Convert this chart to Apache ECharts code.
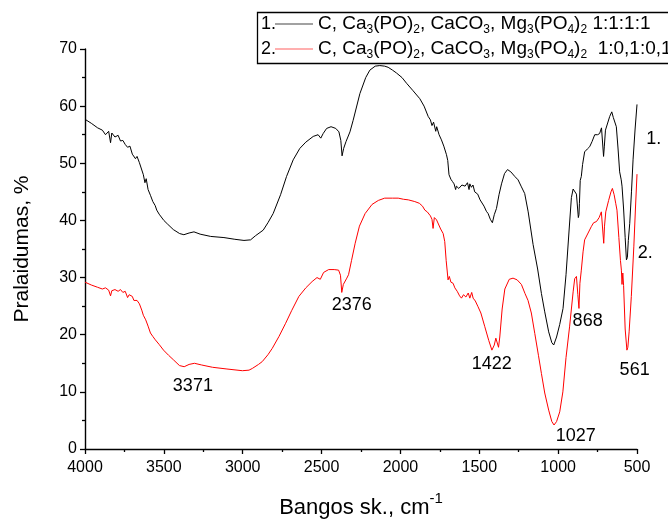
<!DOCTYPE html>
<html>
<head>
<meta charset="utf-8">
<script src="https://cdn.jsdelivr.net/npm/echarts@6/dist/echarts.min.js"></script>
<style>
html, body { margin: 0; padding: 0; background: #fff; }
#main { width: 668px; height: 521px; }
</style>
</head>
<body>
<div id="main"></div>
<script>
// spectrum 1 (black)
const waveBlack = [4000, 3960, 3920, 3890, 3870, 3850, 3838, 3830, 3810, 3790, 3775, 3760, 3745, 3730, 3715, 3700,
    3690, 3680, 3670, 3655, 3645, 3630, 3620, 3612, 3600, 3585, 3570, 3555, 3545, 3530, 3500, 3478, 3440, 3400,
    3373, 3340, 3309, 3270, 3203, 3119, 3050, 2992, 2950, 2920, 2870, 2840, 2807, 2760, 2722, 2680, 2638, 2600,
    2553, 2522, 2505, 2490, 2468, 2440, 2410, 2390, 2378, 2370, 2360, 2345, 2335, 2320, 2300, 2257, 2220, 2194,
    2160, 2131, 2100, 2078, 2050, 2025, 1990, 1961, 1920, 1877, 1850, 1824, 1810, 1800, 1790, 1782, 1776, 1770,
    1755, 1740, 1725, 1708, 1700, 1692, 1687, 1680, 1670, 1660, 1650, 1645, 1630, 1610, 1590, 1575, 1565, 1560,
    1550, 1540, 1529, 1510, 1495, 1486, 1470, 1455, 1444, 1430, 1417, 1405, 1398, 1391, 1375, 1359, 1340, 1321,
    1300, 1275, 1254, 1235, 1212, 1190, 1159, 1130, 1106, 1085, 1060, 1040, 1028, 1010, 990, 969, 950, 930, 916,
    905, 895, 884, 872, 868, 865, 860, 853, 845, 832, 815, 800, 785, 768, 750, 737, 725, 718, 712, 707, 700, 690,
    673, 660, 650, 631, 620, 610, 600, 595, 585, 575, 567, 561, 555, 546, 535, 525, 512, 500];
const transBlack = [57.7, 57.0, 56.2, 55.8, 55.0, 55.6, 53.6, 55.3, 54.6, 54.9, 53.9, 54.0, 53.3, 52.8, 53.0, 51.6,
    51.9, 50.8, 51.2, 50.1, 49.8, 48.0, 46.6, 47.3, 45.4, 44.4, 43.3, 42.6, 41.8, 41.1, 40.0, 39.4, 38.4, 37.7,
    37.5, 37.8, 38.0, 37.6, 37.2, 37.0, 36.7, 36.5, 36.6, 37.3, 38.3, 39.6, 41.2, 44.5, 47.7, 50.6, 52.6, 53.7,
    54.7, 55.0, 54.4, 55.2, 56.1, 56.4, 56.1, 55.5, 54.0, 51.3, 52.6, 53.8, 54.0, 55.5, 57.5, 62.2, 65.0, 66.3,
    67.0, 67.1, 67.0, 66.8, 66.3, 65.8, 65.0, 64.0, 62.7, 61.3, 60.0, 58.2, 57.6, 56.6, 57.2, 57.0, 55.6, 56.4,
    55.0, 54.1, 53.0, 51.5, 50.5, 48.0, 47.8, 47.2, 46.8, 46.4, 45.4, 46.0, 45.6, 46.2, 46.0, 46.6, 45.4, 46.4,
    45.8, 46.2, 45.0, 44.6, 43.6, 43.6, 42.5, 41.6, 41.2, 40.2, 39.6, 41.0, 40.8, 42.1, 44.5, 46.4, 48.2, 48.9,
    48.5, 47.7, 47.1, 46.0, 44.7, 41.5, 35.8, 31.5, 27.2, 24.0, 20.5, 18.6, 18.2, 19.6, 21.8, 24.6, 30.5, 38.5, 44.0,
    45.5, 45.5, 44.6, 40.5, 41.0, 43.0, 47.0, 47.7, 49.8, 52.0, 52.5, 52.9, 53.8, 55.0, 55.0, 55.2, 56.2, 56.4, 51.2, 53.0, 55.8, 56.0,
    58.2, 59.0, 58.0, 56.4, 52.5, 48.5, 47.1, 46.0, 42.0, 37.0, 33.1, 33.5, 36.5, 39.5, 45.0, 50.6, 56.0, 60.3];

// spectrum 2 (red)
const waveRed = [4000, 3960, 3920, 3890, 3870, 3850, 3838, 3830, 3810, 3790, 3775, 3760, 3745, 3730, 3720, 3700,
    3690, 3680, 3670, 3655, 3640, 3630, 3615, 3600, 3585, 3570, 3554, 3530, 3502, 3470, 3439, 3401, 3371, 3340,
    3306, 3260, 3191, 3100, 3002, 2960, 2939, 2900, 2876, 2840, 2813, 2770, 2728, 2690, 2644, 2600, 2560, 2529,
    2508, 2487, 2455, 2420, 2392, 2380, 2372, 2362, 2350, 2340, 2329, 2310, 2287, 2260, 2224, 2180, 2140, 2100,
    2050, 2014, 1980, 1950, 1909, 1880, 1860, 1845, 1830, 1810, 1800, 1793, 1785, 1771, 1760, 1745, 1729, 1719,
    1710, 1698, 1690, 1680, 1666, 1655, 1640, 1625, 1613, 1600, 1585, 1570, 1560, 1548, 1539, 1525, 1508, 1490,
    1465, 1440, 1420, 1405, 1395, 1385, 1378, 1370, 1355, 1338, 1310, 1286, 1260, 1233, 1210, 1191, 1170, 1148,
    1125, 1106, 1085, 1060, 1040, 1026, 1010, 990, 970, 950, 927, 905, 895, 884, 875, 868, 862, 853, 842, 832,
    810, 790, 775, 757, 740, 726, 716, 711, 706, 698, 680, 665, 656, 645, 635, 627, 615, 605, 599, 595, 590, 585,
    575, 564, 558, 550, 536, 520, 510, 500];
const transRed = [29.2, 28.7, 28.3, 28.0, 28.2, 27.8, 26.8, 27.7, 27.9, 27.6, 27.9, 27.4, 27.6, 26.5, 27.0, 26.7,
    26.0, 26.3, 26.0, 25.4, 24.3, 23.4, 22.6, 21.5, 20.3, 19.7, 19.1, 18.3, 17.3, 16.4, 15.6, 14.6, 14.4, 14.8,
    15.0, 14.7, 14.3, 14.0, 13.7, 13.8, 14.1, 14.8, 15.3, 16.5, 17.6, 19.7, 22.0, 24.2, 26.7, 28.2, 29.3, 30.0,
    29.7, 30.9, 31.4, 31.4, 31.3, 30.4, 27.4, 28.8, 29.0, 29.9, 30.5, 33.0, 36.0, 39.0, 41.2, 42.8, 43.5, 43.9,
    43.9, 43.9, 43.7, 43.6, 43.3, 43.0, 42.5, 41.8, 41.5, 40.8, 40.2, 38.6, 40.5, 40.1, 39.9, 38.5, 37.7, 36.3,
    33.0, 29.6, 30.2, 29.2, 29.0, 28.2, 27.6, 26.8, 26.4, 27.0, 26.6, 27.3, 26.4, 27.4, 26.4, 25.9, 24.9, 23.8,
    21.4, 19.0, 17.3, 18.2, 19.4, 19.2, 17.8, 19.6, 24.5, 28.0, 29.7, 29.9, 29.6, 28.8, 27.2, 26.0, 23.8, 20.2,
    16.4, 13.2, 9.8, 6.8, 4.8, 4.2, 4.8, 6.5, 10.0, 16.0, 21.5, 27.5, 29.8, 30.2, 27.0, 24.6, 29.0, 31.3, 34.5, 36.6,
    37.8, 38.9, 39.6, 39.8, 40.5, 41.5, 41.2, 36.0, 39.0, 41.5, 43.5, 45.0, 45.6, 44.5, 43.0, 41.8, 37.0, 33.0, 31.3, 28.8, 30.8, 28.6,
    21.0, 17.3, 17.8, 20.5, 26.7, 35.5, 42.0, 48.1];

// peak labels, placed in data units
const peakNames = ['3371', '2376', '1422', '1027', '868', '561', '1.', '2.'];
const peakWave = [3316, 2308, 1421, 889, 813, 515, 394, 448];
const peakTrans = [11.0, 25.2, 14.8, 2.3, 22.4, 13.9, 54.3, 34.3];

const seriesNames = ['1.', '2.'];
const seriesColors = ['#000000', '#ff0000'];
const legendTexts = [
    'C, Ca{s|3}(PO){s|2}, CaCO{s|3}, Mg{s|3}(PO{s|4}){s|2} 1:1:1:1',
    'C, Ca{s|3}(PO){s|2}, CaCO{s|3}, Mg{s|3}(PO{s|4}){s|2}  1:0,1:0,1:0,1'
];

const font = '"Liberation Sans", Arial, sans-serif';

function zip(xs, ys) {
    return xs.map(function (x, i) { return [x, ys[i]]; });
}

const chart = echarts.init(document.getElementById('main'));

const axisCommon = {
    axisLine: {show: true, onZero: false, lineStyle: {color: '#000', width: 1.4}},
    axisTick: {show: true, inside: false, length: 5, lineStyle: {color: '#000', width: 1.3}},
    minorTick: {show: true, splitNumber: 2, length: 3, lineStyle: {color: '#000', width: 1.3}},
    splitLine: {show: false}
};

let option = {
    animation: false,
    backgroundColor: '#fff',
    textStyle: {fontFamily: font},
    grid: {left: 85, right: 31, top: 49, bottom: 72, containLabel: false, outerBoundsMode: 'none'},
    xAxis: Object.assign({}, axisCommon, {
        type: 'value',
        min: 500,
        max: 4000,
        interval: 500,
        inverse: true,
        name: '{t|Bangos sk., cm}{sup|-1}',
        nameLocation: 'middle',
        nameGap: 42,
        nameTextStyle: {
            rich: {
                t: {fontSize: 22, color: '#000', fontFamily: font, lineHeight: 28, verticalAlign: 'bottom'},
                sup: {fontSize: 15, color: '#000', fontFamily: font, lineHeight: 15, verticalAlign: 'top'}
            }
        },
        axisLabel: {fontSize: 16, color: '#000', fontFamily: font, margin: 11,
            formatter: function (v) { return String(v); }}
    }),
    yAxis: Object.assign({}, axisCommon, {
        type: 'value',
        min: 0,
        max: 70,
        interval: 10,
        name: 'Pralaidumas, %',
        nameLocation: 'middle',
        nameGap: 52,
        nameTextStyle: {fontSize: 21, color: '#000', fontFamily: font},
        axisLabel: {fontSize: 16, color: '#000', fontFamily: font, margin: 8,
            formatter: function (v) { return String(v); }}
    }),
    series: [
        {
            name: seriesNames[0],
            type: 'line',
            data: zip(waveBlack, transBlack),
            showSymbol: false,
            symbol: 'none',
            lineStyle: {color: seriesColors[0], width: 1},
            z: 3
        },
        {
            name: seriesNames[1],
            type: 'line',
            data: zip(waveRed, transRed),
            showSymbol: false,
            symbol: 'none',
            lineStyle: {color: seriesColors[1], width: 1},
            z: 2
        }
    ]
};
chart.setOption(option);

// legend box and peak annotations
let graphics = [];
graphics.push({
    type: 'rect',
    shape: {x: 257.5, y: 12.5, width: 440, height: 51},
    style: {fill: '#fff', stroke: '#000', lineWidth: 1.3},
    z: 10
});
for (let i = 0; i < legendTexts.length; i++) {
    let y = 24 + i * 25;
    graphics.push({
        type: 'text', x: 261, y: y, z: 11,
        style: {text: seriesNames[i], fontSize: 18, fontFamily: font, fill: '#000', align: 'left', verticalAlign: 'middle'}
    });
    graphics.push({
        type: 'line', z: 11,
        shape: {x1: 275, y1: y, x2: 313, y2: y},
        style: {stroke: i === 0 ? '#444' : '#ff6060', lineWidth: 1.2}
    });
    graphics.push({
        type: 'text', x: 318, y: y, z: 11,
        style: {
            text: legendTexts[i], fontSize: 19, fontFamily: font, fill: '#000',
            align: 'left', verticalAlign: 'middle', lineHeight: 24,
            rich: {
                s: {fontSize: 12, fontFamily: font, fill: '#000', lineHeight: 12, verticalAlign: 'bottom'}
            }
        }
    });
}
for (let i = 0; i < peakNames.length; i++) {
    let p = chart.convertToPixel({gridIndex: 0}, [peakWave[i], peakTrans[i]]);
    graphics.push({
        type: 'text', x: p[0], y: p[1], z: 12,
        style: {text: peakNames[i], fontSize: 18, fontFamily: font, fill: '#000', align: 'center', verticalAlign: 'middle'}
    });
}
chart.setOption({graphic: graphics});
</script>
</body>
</html>
